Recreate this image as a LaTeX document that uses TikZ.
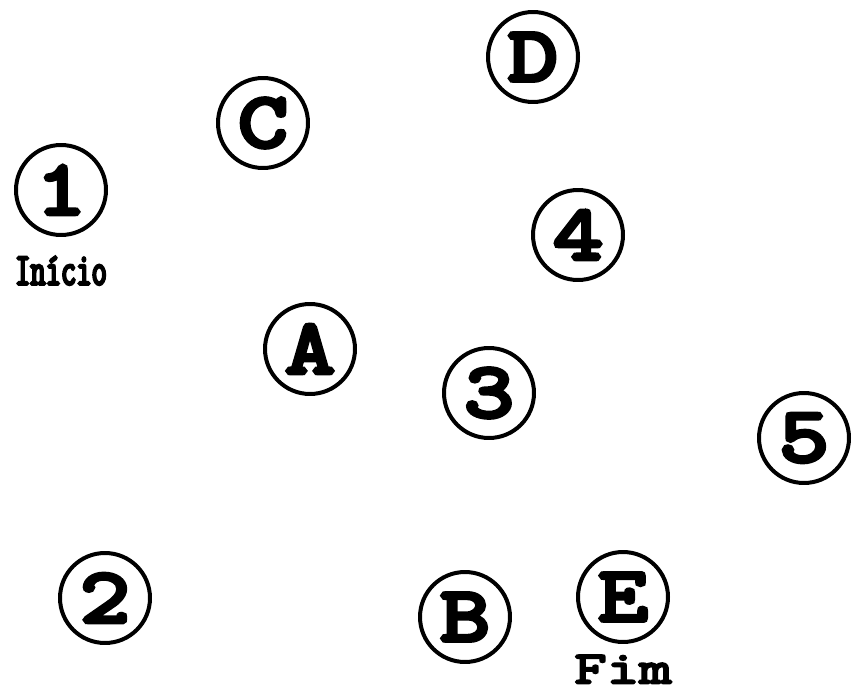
\documentclass[tikz,border=0pt]{standalone}
\usepackage{fontspec}
\usetikzlibrary{positioning}
\newfontfamily\spotfont[FakeStretch=1.25,FakeBold=6]{Latin Modern Mono}
\newfontfamily\startfont[FakeStretch=0.65,FakeBold=5]{Latin Modern Mono}
\newfontfamily\endfont[FakeStretch=1.38,FakeBold=5]{Latin Modern Mono}

\begin{document}
\begin{tikzpicture}[x=0.02cm, y=-0.02cm]
  \tikzset{
    spot/.style={draw=black,circle,line width=0.08cm,minimum size=1.8cm,
                 inner sep=0pt,font=\spotfont\fontsize{44}{44}\selectfont},
    tag/.style={inner sep=0pt}
  }
  \useasboundingbox (0,0) rectangle (852,696);
  % Points on the map
  \foreach \n/\x/\y in {1/61/190,C/263/123,D/533/57,4/578/235,A/310/349,
                        3/489/393,5/804/438,2/105/598,B/465/617,E/623/597}
    \node[spot] (p\n) at (\x,\y) {\n};
  % Start and end
  \node[tag,font=\startfont\fontsize{26}{26}\selectfont,below=0.38cm of p1] (inicio) {Início};
  \node[tag,font=\endfont\fontsize{26}{26}\selectfont,below=0.22cm of pE] (fim) {Fim};
\end{tikzpicture}
\end{document}
